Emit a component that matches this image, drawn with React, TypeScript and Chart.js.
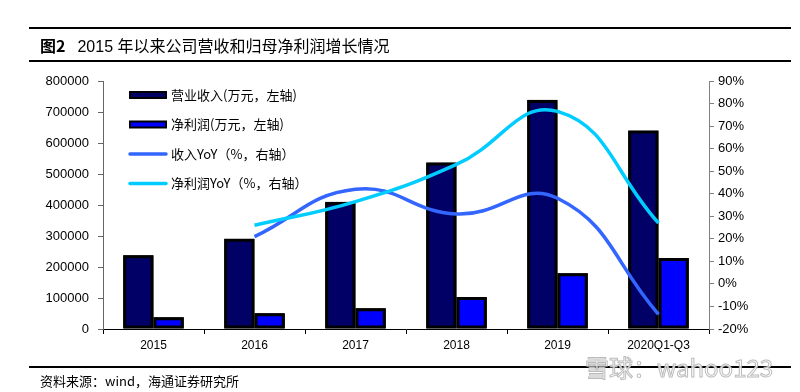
import React, { useEffect, useRef } from "react";
import { Chart, registerables } from "chart.js";

Chart.register(...registerables);

const categories = ["2015", "2016", "2017", "2018", "2019", "2020Q1-Q3"];
const revenue = [238000, 291000, 410000, 537000, 739000, 640000];
const netProfit = [38000, 51000, 67000, 103000, 180000, 229000];
const revenueYoY = [null, 21, 42, 31, 38, -13.5];
const profitYoY = [null, 26, 36.5, 53, 76.5, 27];
const leftTicks = { min: 0, max: 800000, step: 100000 };
const rightTicks = { min: -20, max: 90, step: 10 };
const seriesLabels = [
  "营业收入(万元，左轴)",
  "净利润(万元，左轴)",
  "收入YoY（%，右轴）",
  "净利润YoY（%，右轴）",
];

const CJK = '"Noto Sans CJK SC", "Liberation Sans", sans-serif';
const LAT = '"Liberation Sans", Arial, sans-serif';

// black underlay behind each bar so border seams stay black
const barUnderlay = {
  id: "barUnderlay",
  beforeDatasetsDraw(chart: any) {
    const ctx = chart.ctx;
    ctx.save();
    ctx.fillStyle = "#000";
    chart.data.datasets.forEach((ds: any, i: number) => {
      if (ds.type !== "bar") return;
      const meta = chart.getDatasetMeta(i);
      meta.data.forEach((el: any) => {
        const p = el.getProps(["x", "y", "base", "width"], true);
        const top = Math.min(p.y, p.base);
        const h = Math.abs(p.base - p.y);
        ctx.fillRect(p.x - p.width / 2, top, p.width, h);
      });
    });
    ctx.restore();
  },
};

const legendPlugin = {
  id: "insideLegend",
  afterDatasetsDraw(chart: any) {
    const ctx = chart.ctx;
    const x0 = 129;
    const x1 = 167;
    const rows = [95, 124.5, 154, 183.5];
    ctx.save();
    chart.data.datasets.forEach((ds: any, i: number) => {
      const y = rows[i];
      if (ds.type === "bar") {
        ctx.fillStyle = "#000";
        ctx.fillRect(x0, y - 4, x1 - x0, 8);
        ctx.fillStyle = ds.backgroundColor;
        ctx.fillRect(x0 + 2, y - 2, x1 - x0 - 4, 4);
      } else {
        ctx.strokeStyle = ds.borderColor;
        ctx.lineWidth = 3.5;
        ctx.lineCap = "round";
        ctx.beginPath();
        ctx.moveTo(x0 + 1, y);
        ctx.lineTo(x1 - 1, y);
        ctx.stroke();
      }
      ctx.fillStyle = "#000";
      ctx.font = "13px " + CJK;
      ctx.textBaseline = "middle";
      ctx.textAlign = "left";
      ctx.fillText(ds.label, 171, y);
    });
    ctx.restore();
  },
};

export default function App() {
  const ref = useRef<HTMLCanvasElement>(null);
  useEffect(() => {
    if (!ref.current) return;
    const barCommon = {
      type: "bar",
      borderColor: "#000000",
      borderWidth: 3,
      borderSkipped: false,
      inflateAmount: 0,
      yAxisID: "y",
      order: 2,
      categoryPercentage: 0.6,
      barPercentage: 1.0,
    };
    const chart = new Chart(ref.current, {
      data: {
        labels: categories,
        datasets: [
          {
            ...barCommon,
            label: seriesLabels[0],
            data: revenue,
            backgroundColor: "#000066",
          },
          {
            ...barCommon,
            label: seriesLabels[1],
            data: netProfit,
            backgroundColor: "#0000FF",
          },
          {
            type: "line",
            label: seriesLabels[2],
            data: revenueYoY,
            borderColor: "#3366FF",
            borderWidth: 3.5,
            pointRadius: 0,
            tension: 0.45,
            yAxisID: "y1",
            order: 1,
            spanGaps: false,
          },
          {
            type: "line",
            label: seriesLabels[3],
            data: profitYoY,
            borderColor: "#00CCFF",
            borderWidth: 3.5,
            pointRadius: 0,
            tension: 0.45,
            yAxisID: "y1",
            order: 0,
            spanGaps: false,
          },
        ],
      } as any,
      options: {
        responsive: false,
        animation: false,
        layout: { padding: { top: 81, left: 0, right: 0, bottom: 0 } },
        plugins: { legend: { display: false }, tooltip: { enabled: false } },
        scales: {
          x: {
            offset: true,
            grid: {
              offset: true,
              drawOnChartArea: false,
              drawTicks: true,
              tickLength: 5,
              color: "#000",
            },
            border: { display: true, color: "#000", width: 1 },
            ticks: {
              color: "#000",
              font: { family: LAT, size: 12 },
              padding: 4,
              maxRotation: 0,
              autoSkip: false,
            },
            afterFit: (s: any) => {
              s.height = 63;
            },
          },
          y: {
            position: "left",
            min: leftTicks.min,
            max: leftTicks.max,
            grid: {
              drawOnChartArea: false,
              drawTicks: true,
              tickLength: 5,
              color: "#666",
            },
            border: { display: true, color: "#666", width: 1 },
            ticks: {
              stepSize: leftTicks.step,
              color: "#000",
              font: { family: LAT, size: 13 },
              padding: 9,
              callback: (v: any) => String(v),
            },
            afterFit: (s: any) => {
              s.width = 103;
            },
          },
          y1: {
            position: "right",
            min: rightTicks.min,
            max: rightTicks.max,
            grid: {
              drawOnChartArea: false,
              drawTicks: true,
              tickLength: 5,
              color: "#808080",
            },
            border: { display: true, color: "#808080", width: 1 },
            ticks: {
              stepSize: rightTicks.step,
              color: "#000",
              font: { family: LAT, size: 13 },
              padding: 4,
              callback: (v: any) => v + "%",
            },
            afterFit: (s: any) => {
              s.width = 91;
            },
          },
        },
      } as any,
      plugins: [barUnderlay, legendPlugin],
    });
    return () => chart.destroy();
  }, []);

  return (
    <div
      style={{
        position: "absolute",
        left: 0,
        top: 0,
        width: 800,
        height: 392,
        background: "#fff",
        overflow: "hidden",
      }}
    >
      <canvas
        ref={ref}
        width={800}
        height={392}
        style={{ position: "absolute", left: 0, top: 0, width: 800, height: 392 }}
      />
      <div style={{ position: "absolute", left: 29, top: 27, width: 762, height: 2, background: "#000" }} />
      <div
        style={{
          position: "absolute",
          left: 40,
          top: 34,
          fontFamily: CJK,
          fontSize: 16,
          lineHeight: "22px",
          whiteSpace: "nowrap",
          color: "#000",
        }}
      >
        <span style={{ fontWeight: 700 }}>图2</span>
        <span style={{ marginLeft: 12 }}>
          <span style={{ fontFamily: LAT }}>2015 </span>年以来公司营收和归母净利润增长情况
        </span>
      </div>
      <div style={{ position: "absolute", left: 29, top: 60, width: 762, height: 2, background: "#000" }} />
      <div style={{ position: "absolute", left: 29, top: 366, width: 762, height: 2, background: "#000" }} />
      <div
        style={{
          position: "absolute",
          left: 40,
          top: 372,
          fontFamily: CJK,
          fontSize: 13,
          lineHeight: "18px",
          whiteSpace: "nowrap",
          color: "#000",
        }}
      >
        资料来源：wind，海通证券研究所
      </div>
      <div
        style={{
          position: "absolute",
          left: 585,
          top: 352,
          fontFamily: CJK,
          fontSize: 24,
          lineHeight: "30px",
          whiteSpace: "nowrap",
          color: "rgba(255,255,255,0.85)",
          WebkitTextStroke: "1px rgba(170,170,170,0.8)",
        }}
      >
        雪球：wahoo123
      </div>
    </div>
  );
}
